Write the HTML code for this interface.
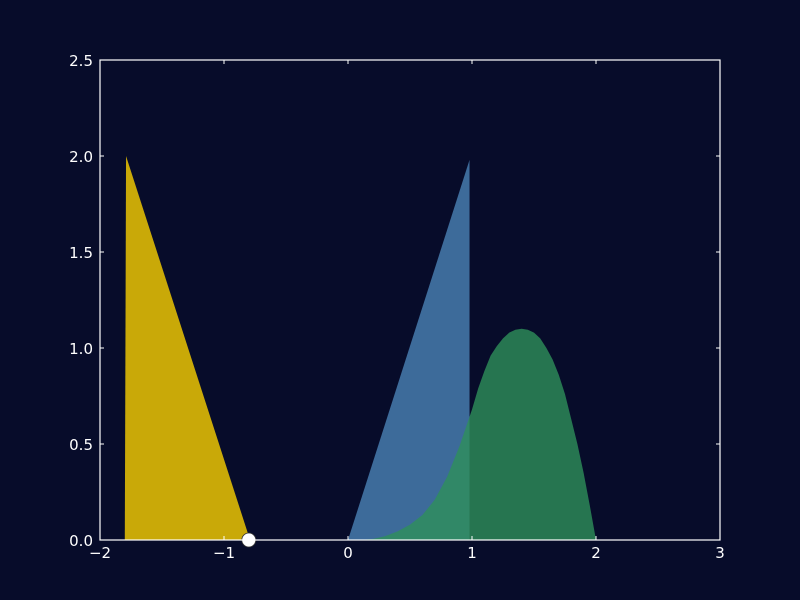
<!DOCTYPE html>
<html><head><meta charset="utf-8"><style>
body{margin:0;background:#070c2a;}
svg{display:block;font-family:"DejaVu Sans","Liberation Sans",sans-serif;}
</style></head><body>
<svg id="chart" width="800" height="600" xmlns="http://www.w3.org/2000/svg">
<rect width="800" height="600" fill="#070c2a"/>
<g id="marks"></g>
<rect x="100" y="60" width="620" height="480" fill="none" stroke="#ffffff" stroke-width="1.2"/>
<g id="axes"></g>
</svg>
<script>
const xTicks=[-2,-1,0,1,2,3];
const xTickLabels=["\u22122","\u22121","0","1","2","3"];
const yTicks=[0,0.5,1,1.5,2,2.5];
const yTickLabels=["0.0","0.5","1.0","1.5","2.0","2.5"];
const yellowX=[-1.8,-1.79,-0.79];
const yellowY=[0,2.0,0];
const blueX=[0,0.98,0.98];
const blueY=[0,1.98,0];
const greenX=[0,0.1,0.2,0.3,0.4,0.5,0.6,0.7,0.8,0.9,1.0,1.05,1.1,1.15,1.2,1.25,1.3,1.35,1.4,1.45,1.5,1.55,1.6,1.65,1.7,1.75,1.8,1.85,1.9,1.95,2.0];
const greenY=[0,0.001,0.005,0.02,0.045,0.08,0.13,0.21,0.33,0.49,0.68,0.79,0.88,0.96,1.01,1.05,1.08,1.095,1.1,1.095,1.08,1.05,1.0,0.94,0.86,0.76,0.63,0.5,0.35,0.18,0];
const markerX=[-0.8], markerY=[0];
const sx=v=>100+(v+2)*124, sy=v=>540-v*192;
const NS="http://www.w3.org/2000/svg";
const marks=document.getElementById('marks'), axes=document.getElementById('axes');
function poly(xs,ys,fill,op,name){
  const p=document.createElementNS(NS,'polygon');
  p.setAttribute('points',xs.map((x,i)=>sx(x)+','+sy(ys[i])).join(' '));
  p.setAttribute('fill',fill);p.setAttribute('fill-opacity',op);
  
  
  marks.appendChild(p);
}
poly(yellowX,yellowY,'#c9a908',1,'yellow-triangle');
poly(blueX,blueY,'#3d6b9a',1,'blue-triangle');
poly(greenX,greenY,'#2e905a',0.8,'green-curve-area');
markerX.forEach((x,i)=>{
  const c=document.createElementNS(NS,'circle');
  c.setAttribute('cx',sx(x));c.setAttribute('cy',sy(markerY[i]));c.setAttribute('r',7);
  c.setAttribute('fill','#ffffff');c.setAttribute('stroke','#333');c.setAttribute('stroke-width','0.8');
  
  
  marks.appendChild(c);
});
xTicks.forEach((t,i)=>{
  const x=sx(t);
  [[540,536],[60,64]].forEach(([a,b])=>{const l=document.createElementNS(NS,'line');
  l.setAttribute('x1',x);l.setAttribute('x2',x);l.setAttribute('y1',a);l.setAttribute('y2',b);l.setAttribute('stroke','#fff');
  
  
  axes.appendChild(l);});
  const tx=document.createElementNS(NS,'text');
  tx.setAttribute('x',x);tx.setAttribute('y',558);tx.setAttribute('text-anchor','middle');tx.setAttribute('fill','#fff');tx.setAttribute('font-size','15');
  tx.textContent=xTickLabels[i];
  
  
  axes.appendChild(tx);
});
yTicks.forEach((t,i)=>{
  const y=sy(t);
  [[100,104],[720,716]].forEach(([a,b])=>{const l=document.createElementNS(NS,'line');
  l.setAttribute('x1',a);l.setAttribute('x2',b);l.setAttribute('y1',y);l.setAttribute('y2',y);l.setAttribute('stroke','#fff');
  
  
  axes.appendChild(l);});
  const tx=document.createElementNS(NS,'text');
  tx.setAttribute('x',93);tx.setAttribute('y',y+6);tx.setAttribute('text-anchor','end');tx.setAttribute('fill','#fff');tx.setAttribute('font-size','15');
  tx.textContent=yTickLabels[i];
  
  
  axes.appendChild(tx);
});
</script>
</body></html>
